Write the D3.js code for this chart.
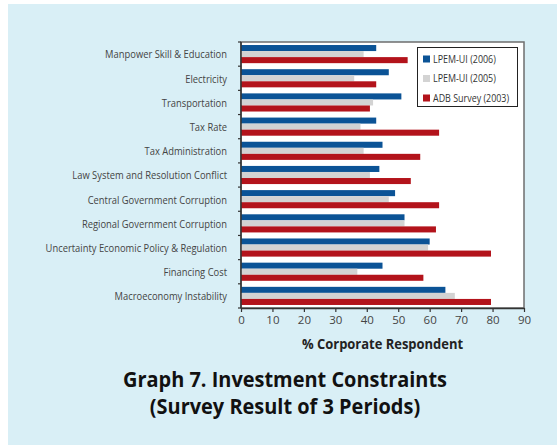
<!DOCTYPE html>
<html>
<head>
<meta charset="utf-8">
<script src="https://cdn.jsdelivr.net/npm/d3@7"></script>
<style>
  html, body { margin: 0; padding: 0; background: #fff; }
  svg { display: block; }
  text { font-family: "Open Sans", "Noto Sans", sans-serif; }
</style>
</head>
<body>
<svg id="chart" width="557" height="445"></svg>
<script>
// Investment constraints, % of corporate respondents, three survey periods
const categories = [
  "Manpower Skill & Education",
  "Electricity",
  "Transportation",
  "Tax Rate",
  "Tax Administration",
  "Law System and Resolution Conflict",
  "Central Government Corruption",
  "Regional Government Corruption",
  "Uncertainty Economic Policy & Regulation",
  "Financing Cost",
  "Macroeconomy Instability"
];
const seriesNames = ["LPEM-UI (2006)", "LPEM-UI (2005)", "ADB Survey (2003)"];
const lpem2006 = [43, 47, 51, 43, 45, 44, 49, 52, 60, 45, 65];
const lpem2005 = [39, 36, 42, 38, 39, 41, 47, 52, 59.5, 37, 68];
const adb2003  = [53, 43, 41, 63, 57, 54, 63, 62, 79.5, 58, 79.5];
const xTicks = [0, 10, 20, 30, 40, 50, 60, 70, 80, 90];
const seriesColors = ["#0b5396", "#d3d3d3", "#b3131b"];

const seriesValues = [lpem2006, lpem2005, adb2003];

const svg = d3.select("#chart");
const W = 557, H = 445;
const plot = { left: 241, right: 524, top: 42, bottom: 308 };

// panel background
svg.append("rect").attr("x", 8).attr("y", 4).attr("width", W - 8).attr("height", H - 4)
  .attr("fill", "#d9eff6");

const x = d3.scaleLinear().domain([0, 90]).range([plot.left, plot.right]);
const y = d3.scaleBand().domain(categories).range([plot.top, plot.bottom]).padding(0);
const ySub = d3.scaleBand().domain(seriesNames).range([0, y.bandwidth()])
  .paddingInner(0).paddingOuter(0.5);

// plot frame
svg.append("rect")
  .attr("x", plot.left).attr("y", plot.top)
  .attr("width", plot.right - plot.left).attr("height", plot.bottom - plot.top)
  .attr("fill", "#fff").attr("stroke", "#6e6e6e").attr("stroke-width", 1.5);

// condensed text helper: horizontal squeeze around the anchor point
function condensed(sel, sx) {
  return sel.attr("transform", function () {
    const tx = +this.getAttribute("data-x"), ty = +this.getAttribute("data-y");
    return `translate(${tx},${ty}) scale(${sx},1)`;
  });
}

// bars
const rows = categories.map((c, i) => ({ cat: c, vals: seriesValues.map(s => s[i]) }));
const groups = svg.append("g").selectAll("g").data(rows).join("g")
  .attr("transform", d => `translate(0,${y(d.cat)})`);
groups.selectAll("rect")
  .data(d => d.vals.map((v, k) => ({ v, name: seriesNames[k], k })))
  .join("rect")
  .attr("x", x(0))
  .attr("y", d => ySub(d.name))
  .attr("width", d => x(d.v) - x(0))
  .attr("height", ySub.bandwidth())
  .attr("fill", d => seriesColors[d.k]);

// left axis with ticks at category boundaries
const yAxis = svg.append("g");
yAxis.append("line").attr("x1", plot.left).attr("x2", plot.left)
  .attr("y1", plot.top).attr("y2", plot.bottom).attr("stroke", "#333").attr("stroke-width", 1.5);
const bounds = categories.map(c => y(c)).concat([y.range()[1]]);
yAxis.selectAll("line.tick").data(bounds).join("line").attr("class", "tick")
  .attr("x1", plot.left - 3).attr("x2", plot.left)
  .attr("y1", d => d).attr("y2", d => d)
  .attr("stroke", "#333").attr("stroke-width", 1.2);

// category labels
svg.append("g").selectAll("text").data(categories).join("text")
  .attr("data-x", 227).attr("data-y", d => y(d) + y.bandwidth() / 2)
  .attr("text-anchor", "end").attr("dominant-baseline", "central")
  .attr("font-size", 11.3).attr("fill", "#444")
  .text(d => d)
  .call(condensed, 0.83);

// bottom axis
const xAxis = svg.append("g").attr("transform", `translate(0,${plot.bottom})`)
  .call(d3.axisBottom(x).tickValues(xTicks).tickSize(4).tickPadding(4).tickSizeOuter(0));
xAxis.select(".domain").attr("stroke", "#333").attr("stroke-width", 1.5);
xAxis.selectAll(".tick line").attr("stroke", "#333").attr("stroke-width", 1.2);
xAxis.selectAll(".tick text").attr("font-size", 11.5).attr("fill", "#444")
  .attr("font-family", "\"Open Sans\", sans-serif");

// axis title
svg.append("text")
  .attr("data-x", (plot.left + plot.right) / 2).attr("data-y", 349)
  .attr("text-anchor", "middle").attr("font-size", 13.5).attr("font-weight", "bold")
  .attr("fill", "#222").text("% Corporate Respondent")
  .call(condensed, 0.96);

// legend
const lg = svg.append("g");
lg.append("rect").attr("x", 417.5).attr("y", 47.5).attr("width", 100).attr("height", 59)
  .attr("fill", "#fff").attr("stroke", "#222").attr("stroke-width", 1);
const lgRows = lg.selectAll("g").data(seriesNames).join("g")
  .attr("transform", (d, i) => `translate(0,${59 + i * 19.5})`);
lgRows.append("rect").attr("x", 423).attr("y", -3.5).attr("width", 7).attr("height", 7)
  .attr("fill", (d, i) => seriesColors[i]);
lgRows.append("text")
  .attr("data-x", 433).attr("data-y", 0)
  .attr("dominant-baseline", "central")
  .attr("font-size", 10.5).attr("fill", "#333").text(d => d)
  .call(condensed, 0.85);

// title
const title = svg.append("g");
title.append("text").attr("data-x", 285).attr("data-y", 387)
  .attr("text-anchor", "middle").attr("font-size", 21).attr("font-weight", "bold")
  .attr("fill", "#111").text("Graph 7. Investment Constraints")
  .call(condensed, 0.95);
title.append("text").attr("data-x", 285).attr("data-y", 414)
  .attr("text-anchor", "middle").attr("font-size", 21).attr("font-weight", "bold")
  .attr("fill", "#111").text("(Survey Result of 3 Periods)")
  .call(condensed, 0.95);
</script>
</body>
</html>
